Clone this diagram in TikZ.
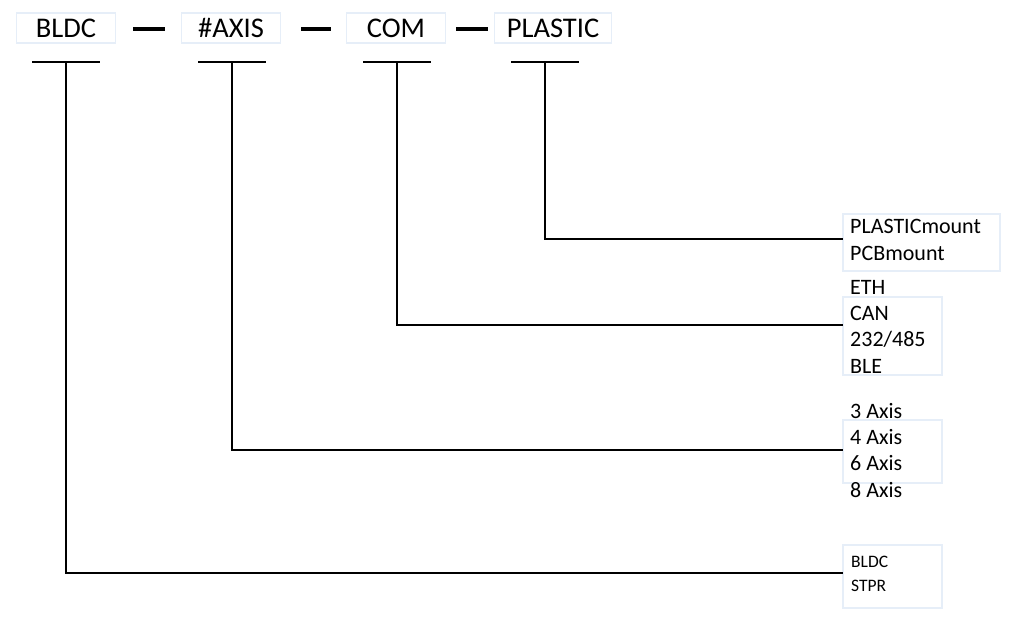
\documentclass[tikz,border=0pt]{standalone}
\usepackage{fontspec}
\setmainfont{Carlito}
\usepackage{tikz}
\usetikzlibrary{calc}
\definecolor{glow}{HTML}{E6EEF8}
\tikzstyle{tag}=[draw=glow, line width=1.5pt, fill=white, minimum height=30pt, inner sep=0pt, font=\fontsize{28.5}{30}\selectfont]
\tikzstyle{listbox}=[draw=glow, line width=1.5pt]
\tikzstyle{list}=[align=left, anchor=base west, inner sep=0pt, font=\fontsize{22}{26.3}\selectfont]
\tikzstyle{dashbar}=[line width=4pt]
\tikzstyle{wire}=[line width=1.6pt]

\begin{document}
\begin{tikzpicture}[x=1pt,y=-1pt]
\useasboundingbox (0,0) rectangle (1024,620);
% code fields along the top
\foreach \n/\t/\x/\w/\s in {bldc/BLDC/66/99/66,axis/\#AXIS/231/99/232,com/COM/396/99/397,plastic/PLASTIC/553/117/545} {
	\node[tag, minimum width=\w pt] (\n) at (\x,28) {\t};
	\coordinate (t\n) at (\s,62);
	\draw[wire] ($(t\n)+(-34,0)$) -- ($(t\n)+(34,0)$);
}
\draw[dashbar] ($(bldc.east)+(17,1)$) -- ($(bldc.east)+(49,1)$);
\draw[dashbar] ($(axis.east)+(20,1)$) -- ($(axis.east)+(50,1)$);
\draw[dashbar] ($(com.east)+(10,1)$) -- ($(com.east)+(42,1)$);
% option boxes
\draw[listbox] (843,214) rectangle (1000,271);
\draw[listbox] (843,297) rectangle (942,375);
\draw[listbox] (843,420) rectangle (942,483);
\draw[listbox] (843,545) rectangle (942,608);
% lists, placed by the baseline of their last line
\node[list] (lplastic) at (850,260) {PLASTICmount\\PCBmount};
\node[list] (lcom) at (850,373) {ETH\\CAN\\232/485\\BLE};
\node[list] (laxis) at (850,497) {3 Axis\\4 Axis\\6 Axis\\8 Axis};
\node[list, font=\fontsize{17.5}{24}\selectfont] (lbldc) at (851,591) {BLDC\\STPR};
\coordinate (eplastic) at (843,239);
\coordinate (ecom) at (843,325);
\coordinate (eaxis) at (843,450);
\coordinate (ebldc) at (843,573);
% leader lines
\foreach \n in {bldc,axis,com,plastic} {
	\draw[wire] (t\n) |- (e\n);
}
\end{tikzpicture}
\end{document}
